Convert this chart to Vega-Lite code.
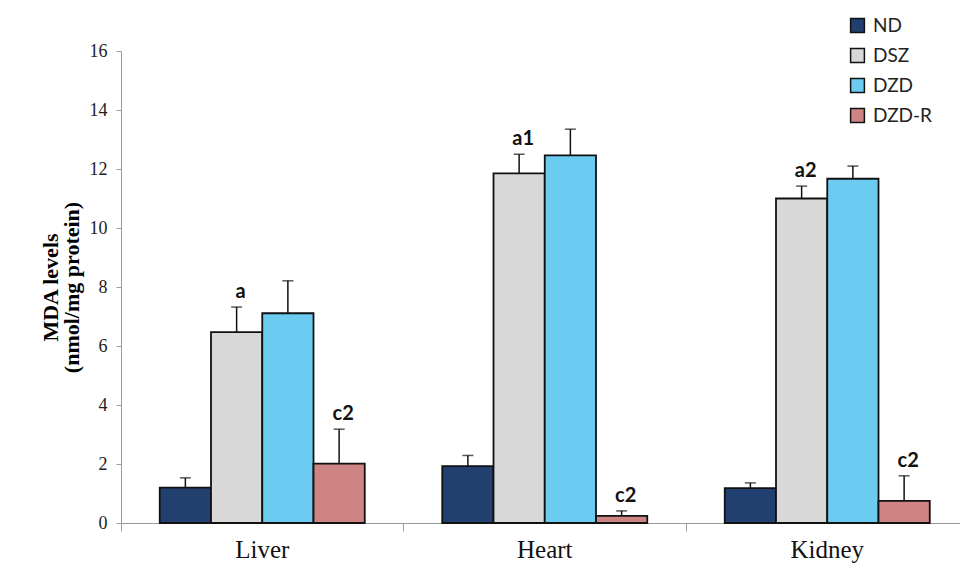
{
  "$schema": "https://vega.github.io/schema/vega-lite/v6.json",
  "width": 839,
  "height": 472,
  "autosize": {"type": "none"},
  "padding": {"left": 121, "top": 51, "right": 0, "bottom": 43},
  "background": "white",
  "config": {"view": {"stroke": null}, "axis": {"grid": false}},
  "data": {
    "values": [
      {"organ": "Liver", "group": "ND", "mean": 1.2, "upper": 1.53, "label": ""},
      {"organ": "Liver", "group": "DSZ", "mean": 6.47, "upper": 7.32, "label": "a"},
      {"organ": "Liver", "group": "DZD", "mean": 7.11, "upper": 8.21, "label": ""},
      {"organ": "Liver", "group": "DZD-R", "mean": 2.01, "upper": 3.18, "label": "c2"},
      {"organ": "Heart", "group": "ND", "mean": 1.93, "upper": 2.29, "label": ""},
      {"organ": "Heart", "group": "DSZ", "mean": 11.85, "upper": 12.5, "label": "a1"},
      {"organ": "Heart", "group": "DZD", "mean": 12.46, "upper": 13.35, "label": ""},
      {"organ": "Heart", "group": "DZD-R", "mean": 0.24, "upper": 0.41, "label": "c2"},
      {"organ": "Kidney", "group": "ND", "mean": 1.18, "upper": 1.36, "label": ""},
      {"organ": "Kidney", "group": "DSZ", "mean": 11.0, "upper": 11.42, "label": "a2"},
      {"organ": "Kidney", "group": "DZD", "mean": 11.67, "upper": 12.1, "label": ""},
      {"organ": "Kidney", "group": "DZD-R", "mean": 0.75, "upper": 1.6, "label": "c2"}
    ]
  },
  "encoding": {
    "x": {
      "field": "organ",
      "type": "nominal",
      "sort": ["Liver", "Heart", "Kidney"],
      "scale": {"range": [0, 847.5], "paddingInner": 0, "paddingOuter": 0},
      "axis": {
        "title": null,
        "labelAngle": 0,
        "bandPosition": 0,
        "domainColor": "#9a9a9a",
        "tickColor": "#9a9a9a",
        "tickSize": 8,
        "labelFont": "Liberation Serif",
        "labelFontSize": 25,
        "labelColor": "#111",
        "labelPadding": 6
      }
    },
    "xOffset": {
      "field": "group",
      "sort": ["ND", "DSZ", "DZD", "DZD-R"],
      "scale": {"paddingInner": 0, "paddingOuter": 0.756}
    }
  },
  "layer": [
    {
      "mark": {"type": "bar", "stroke": "#111", "strokeWidth": 1.8},
      "encoding": {
        "y": {
          "field": "mean",
          "type": "quantitative",
          "scale": {"domain": [0, 16]},
          "axis": {
            "values": [0, 2, 4, 6, 8, 10, 12, 14, 16],
            "title": ["MDA levels", "(nmol/mg protein)"],
            "titleFont": "Liberation Serif",
            "titleFontSize": 22,
            "titleFontWeight": "bold",
            "titleColor": "#000",
            "titleLineHeight": 21,
            "titlePadding": 6,
            "domainColor": "#9a9a9a",
            "tickColor": "#9a9a9a",
            "tickSize": 5,
            "labelFont": "Liberation Serif",
            "labelFontSize": 18,
            "labelColor": "#222",
            "labelPadding": 9
          }
        },
        "color": {
          "field": "group",
          "type": "nominal",
          "sort": ["ND", "DSZ", "DZD", "DZD-R"],
          "scale": {
            "domain": ["ND", "DSZ", "DZD", "DZD-R"],
            "range": ["#22406f", "#d8d8d8", "#6ccbf0", "#cf8484"]
          },
          "legend": {
            "title": null,
            "orient": "none",
            "legendX": 727,
            "legendY": -35,
            "symbolType": "square",
            "symbolSize": 190,
            "symbolStrokeColor": "#111",
            "symbolStrokeWidth": 1.5,
            "labelFont": "Lato",
            "labelFontSize": 19,
            "labelColor": "#222",
            "labelOffset": 6,
            "rowPadding": 9
          }
        }
      }
    },
    {
      "mark": {"type": "rule", "color": "#111", "strokeWidth": 1.5},
      "encoding": {
        "y": {"field": "mean", "type": "quantitative"},
        "y2": {"field": "upper"}
      }
    },
    {
      "mark": {"type": "tick", "color": "#111", "thickness": 1.5, "size": 11},
      "encoding": {
        "y": {"field": "upper", "type": "quantitative"}
      }
    },
    {
      "mark": {"type": "text", "baseline": "bottom", "dy": -5, "dx": 4, "fontWeight": "bold", "font": "Lato", "fontSize": 20, "color": "#111"},
      "encoding": {
        "y": {"field": "upper", "type": "quantitative"},
        "text": {"field": "label"}
      }
    }
  ]
}
